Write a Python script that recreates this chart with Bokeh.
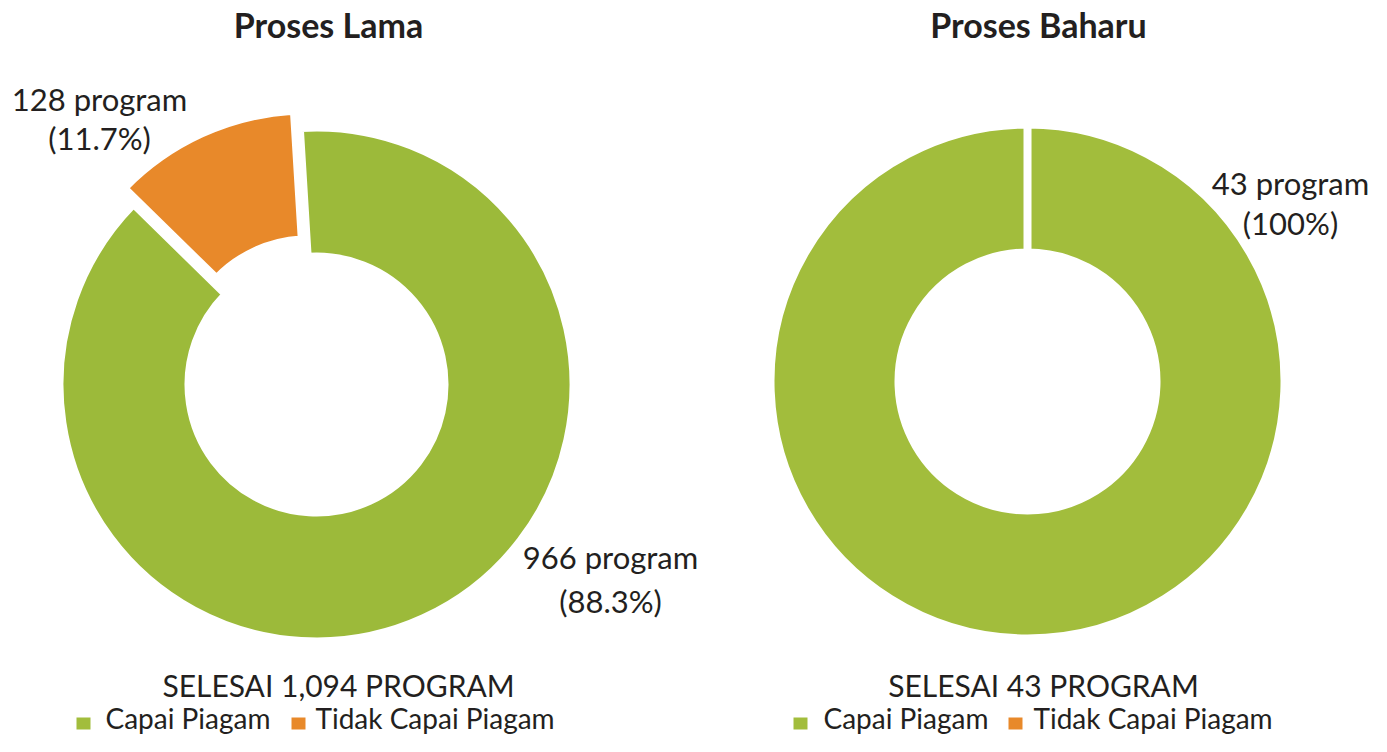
import math
from bokeh.plotting import figure
from bokeh.models import Range1d
from bokeh.core.properties import value
from bokeh.embed import file_html
from bokeh.resources import INLINE

# ---------------- data ----------------
categories = ["Capai Piagam", "Tidak Capai Piagam"]
lama_values = [966, 128]
lama_pct = ["88.3%", "11.7%"]
baharu_values = [43, 0]
baharu_pct = ["100%", "0%"]
titles = ["Proses Lama", "Proses Baharu"]
totals_text = ["SELESAI 1,094 PROGRAM", "SELESAI 43 PROGRAM"]
colors_lama = ["#9cba3a", "#e8892a"]
colors_baharu = ["#a2bd3c", "#e8892a"]
legend_colors = ["#a2bd3c", "#e8892a"]

FONT = value("Lato")
TXT = "#231f20"
DY = 11  # text baseline correction

W, H = 1371, 736
p = figure(width=W, height=H, x_range=Range1d(0, W), y_range=Range1d(-H, 0),
           output_backend="svg", toolbar_location=None, min_border=0,
           x_axis_type=None, y_axis_type=None)
p.grid.visible = False
p.outline_line_color = None
p.background_fill_color = "white"
p.border_fill_color = "white"


def donut(cx, cy, r_in, r_out, values, colors, start_deg, explode, lw):
    total = sum(values)
    order = [1, 0]
    a = math.radians(start_deg)
    for i in order:
        frac = values[i] / total
        if frac <= 0:
            continue
        span = frac * 2 * math.pi
        if frac >= 1:
            span -= 1e-4
        a0, a1 = a, a + span
        ex = explode[i]
        mid = (a0 + a1) / 2
        x = cx + ex * math.cos(mid)
        y = cy + ex * math.sin(mid)
        p.annular_wedge(x=[x], y=[y], inner_radius=r_in, outer_radius=r_out,
                        start_angle=a0, end_angle=a1, fill_color=colors[i],
                        line_color="white", line_width=lw, line_join="round")
        a = a1


def ty(v):
    return [-(t - DY) for t in v]


# left donut
donut(316, -384, 129, 256, lama_values, colors_lama, 93.5, [0, 19], 6)
# right donut
donut(1027, -381, 129, 257, baharu_values, colors_baharu, 90, [0, 0], 8)

# titles
p.text(x=[328, 1038], y=ty([35, 35]), text=titles, text_font=FONT,
       text_font_size=value("34px"), text_font_style="bold", text_color=TXT,
       text_align="center", text_baseline="alphabetic")

# slice labels
lab_x = [610, 99, 1290]
lab_t1 = [f"{lama_values[0]} program", f"{lama_values[1]} program", f"{baharu_values[0]} program"]
lab_t2 = [f"({lama_pct[0]})", f"({lama_pct[1]})", f"({baharu_pct[0]})"]
p.text(x=lab_x, y=ty([567, 109, 193]), text=lab_t1, text_font=FONT, text_font_size=value("31px"),
       text_color=TXT, text_align="center", text_baseline="alphabetic")
p.text(x=lab_x, y=ty([611, 148, 233]), text=lab_t2, text_font=FONT, text_font_size=value("31px"),
       text_color=TXT, text_align="center", text_baseline="alphabetic")

# totals
p.text(x=[338, 1043], y=ty([695, 695]), text=totals_text, text_font=FONT,
       text_font_size=value("30px"), text_color=TXT, text_align="center",
       text_baseline="alphabetic")

# legends
leg_sq_x = [83, 298, 800, 1015]
leg_sq_c = [legend_colors[0], legend_colors[1], legend_colors[0], legend_colors[1]]
p.rect(x=leg_sq_x, y=[-723] * 4, width=14, height=12, fill_color=leg_sq_c, line_color=None)
leg_tx = [105, 315, 823, 1033]
leg_tt = [categories[0], categories[1], categories[0], categories[1]]
p.text(x=leg_tx, y=ty([728] * 4), text=leg_tt, text_font=FONT, text_font_size=value("28px"),
       text_color=TXT, text_align="left", text_baseline="alphabetic")

open("out.html", "w").write(file_html(p, INLINE))
